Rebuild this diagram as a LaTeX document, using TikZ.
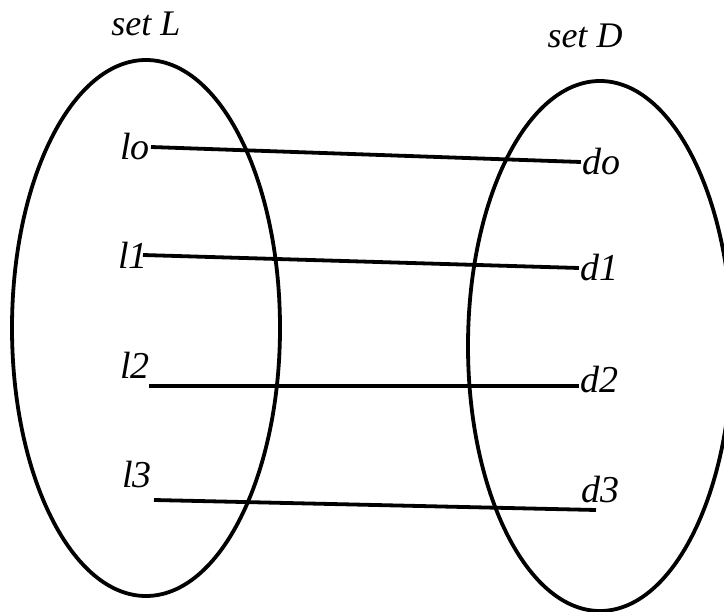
\documentclass[tikz,border=0pt]{standalone}
\usepackage{fontspec}
\setmainfont{Liberation Serif}
\usepackage{tikz}

\tikzset{
  setline/.style={line width=3.8pt},
  link/.style={line width=3.8pt},
  elem/.style={font=\fontsize{38}{42}\selectfont\itshape, inner sep=1pt},
  title/.style={font=\fontsize{36}{40}\selectfont\itshape, inner sep=0pt}
}

\begin{document}
\begin{tikzpicture}[x=1pt,y=-1pt]
\useasboundingbox (0,0) rectangle (724,612);

% The two sets
\draw[setline] (146,328) ellipse (134 and 268);
\draw[setline] (600,346) ellipse (132 and 265);
\node[title] (setL) at (146,24) {set L};
\node[title] (setD) at (585,36) {set D};

% Elements of L
\node[elem] (l0) at (135,147) {lo};
\node[elem] (l1) at (133,255) {l1};
\node[elem] (l2) at (135,365) {l2};
\node[elem] (l3) at (137,475) {l3};

% Elements of D
\node[elem] (d0) at (601,162) {do};
\node[elem] (d1) at (599,268) {d1};
\node[elem] (d2) at (599,380) {d2};
\node[elem] (d3) at (600,490) {d3};

% Loose ends of the lower links
\coordinate (a2) at (149,386);
\coordinate (b2) at (579,386);
\coordinate (a3) at (154,500);
\coordinate (b3) at (596,510);

% Links
\draw[link] (l0.east) -- (d0.west);
\draw[link] ([xshift=-6pt]l1.east) -- (d1.west);
\draw[link] (a2) -- (b2);
\draw[link] (a3) -- (b3);
\end{tikzpicture}
\end{document}
